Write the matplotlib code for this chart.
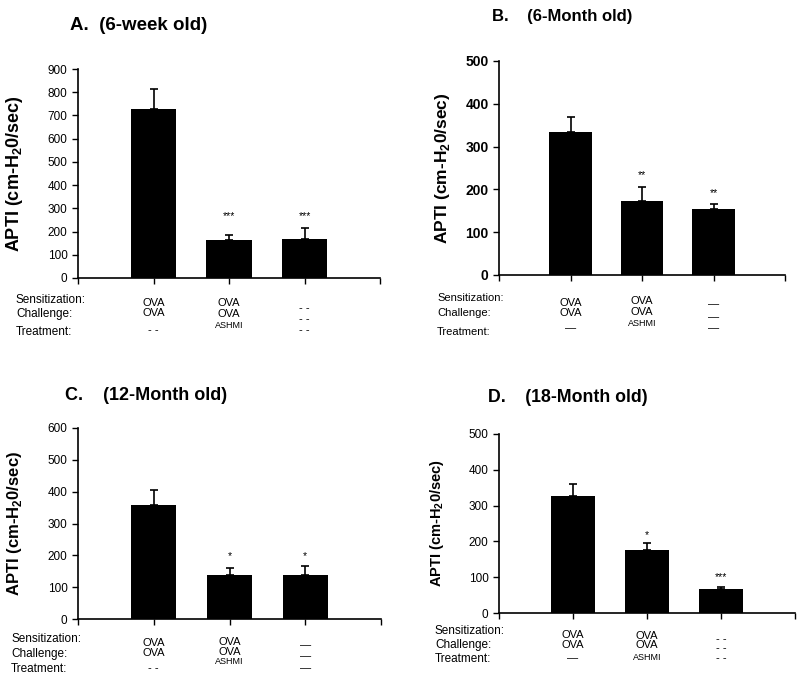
import matplotlib
matplotlib.use("Agg")
import matplotlib.pyplot as plt
import matplotlib.transforms as mtransforms

plt.rcParams['font.family'] = ['Liberation Sans', 'DejaVu Sans']

titles = ["A.  (6-week old)", "B.    (6-Month old)", "C.    (12-Month old)", "D.    (18-Month old)"]
ylabel = "APTI (cm-H$_\\mathregular{2}$0/sec)"
ymax = [900, 500, 600, 500]
ystep = [100, 100, 100, 100]

means_A = [729, 164, 169]
errs_A = [83, 22, 46]
stars_A = ["", "***", "***"]

means_B = [335, 173, 154]
errs_B = [35, 33, 13]
stars_B = ["", "**", "**"]

means_C = [358, 137, 137]
errs_C = [48, 24, 29]
stars_C = ["", "*", "*"]

means_D = [327, 176, 66]
errs_D = [33, 20, 7]
stars_D = ["", "*", "***"]

row_names = ["Sensitization:", "Challenge:", "Treatment:"]
sens_A = ["OVA", "OVA", "- -"]
chal_A = ["OVA", "OVA", "- -"]
treat_A = ["- -", "ASHMI", "- -"]
sens_B = ["OVA", "OVA", "—"]
chal_B = ["OVA", "OVA", "—"]
treat_B = ["—", "ASHMI", "—"]
sens_C = ["OVA", "OVA", "—"]
chal_C = ["OVA", "OVA", "—"]
treat_C = ["- -", "ASHMI", "—"]
sens_D = ["OVA", "OVA", "- -"]
chal_D = ["OVA", "OVA", "- -"]
treat_D = ["—", "ASHMI", "- -"]

W, H = 800, 679
fig = plt.figure(figsize=(8, 6.79), dpi=100)

def fx(px):
    return px / W

def fy(py):
    return 1 - py / H

panels = [
    dict(means=means_A, errs=errs_A, stars=stars_A, rows=[sens_A, chal_A, treat_A],
         box=(78, 69, 380, 278), title_xy=(70, 25), ylab_x=15, ylab_fs=13, tick_fs=8.5, tick_bold=False,
         title_fs=13.5, star_y=[0, 267, 267],
         row_x=16, row_y=[300, 314, 332], rfs=8.5,
         col_y=[[303, 313, 330], [303, 314, 325], [308, 319, 330]], tfs=8),
    dict(means=means_B, errs=errs_B, stars=stars_B, rows=[sens_B, chal_B, treat_B],
         box=(499, 61, 785, 275), title_xy=(492, 17), ylab_x=442, ylab_fs=12.5, tick_fs=10, tick_bold=True,
         title_fs=12, star_y=[0, 234, 192],
         row_x=437, row_y=[298, 313, 332], rfs=8,
         col_y=[[303, 313, 328], [301, 312, 323], [304, 317, 328]], tfs=8),
    dict(means=means_C, errs=errs_C, stars=stars_C, rows=[sens_C, chal_C, treat_C],
         box=(78, 428, 381, 619), title_xy=(65, 396), ylab_x=15, ylab_fs=12, tick_fs=8.5, tick_bold=False,
         title_fs=13, star_y=[0, 198, 198],
         row_x=11, row_y=[639, 654, 669], rfs=8.5,
         col_y=[[643, 653, 668], [642, 652, 662], [645, 656, 668]], tfs=8),
    dict(means=means_D, errs=errs_D, stars=stars_D, rows=[sens_D, chal_D, treat_D],
         box=(499, 434, 795, 613), title_xy=(488, 397), ylab_x=437, ylab_fs=10.5, tick_fs=8.5, tick_bold=False,
         title_fs=12.8, star_y=[0, 218, 100],
         row_x=435, row_y=[631, 645, 659], rfs=8.5,
         col_y=[[635, 645, 658], [636, 645, 657], [639, 648, 658]], tfs=8),
]

xpos = [1, 2, 3]
for i, p in enumerate(panels):
    l, t, r, b = p['box']
    ax = fig.add_axes([fx(l), fy(b), fx(r) - fx(l), fy(t) - fy(b)])
    ax.bar(xpos, p['means'], width=0.6, color='black', zorder=2)
    ax.errorbar(xpos, p['means'], yerr=[[0, 0, 0], p['errs']], fmt='none', ecolor='black',
                elinewidth=1.2, capsize=3, capthick=1.2, zorder=1)
    for x, s, sy in zip(xpos, p['stars'], p['star_y']):
        if s:
            ax.text(x, sy, s, ha='center', va='center', fontsize=7.5)
    ax.set_xlim(0, 4)
    ax.set_ylim(0, ymax[i])
    ax.set_yticks(range(0, ymax[i] + 1, ystep[i]))
    ax.set_xticks([0, 1, 2, 3, 4])
    ax.set_xticklabels([])
    for sp in ['top', 'right']:
        ax.spines[sp].set_visible(False)
    ax.spines['left'].set_linewidth(1.2)
    ax.spines['bottom'].set_linewidth(1.2)
    ax.tick_params(direction='out', length=4, width=1.0, labelsize=p['tick_fs'])
    if p['tick_bold']:
        for lab in ax.get_yticklabels():
            lab.set_fontweight('bold')
    fig.text(fx(p['ylab_x']), (fy(t) + fy(b)) / 2, ylabel, rotation=90, ha='center', va='center',
             fontsize=p['ylab_fs'], fontweight='bold')
    fig.text(fx(p['title_xy'][0]), fy(p['title_xy'][1]), titles[i], ha='left', va='center',
             fontsize=p['title_fs'], fontweight='bold')
    trans = mtransforms.blended_transform_factory(ax.transData, fig.transFigure)
    for name, ry in zip(row_names, p['row_y']):
        fig.text(fx(p['row_x']), fy(ry), name, ha='left', va='center', fontsize=p['rfs'])
    for ci, x in enumerate(xpos):
        for ri in range(3):
            txt = p['rows'][ri][ci]
            fs = 6.5 if txt == "ASHMI" else p['tfs']
            ax.text(x, fy(p['col_y'][ci][ri]), txt, transform=trans, ha='center', va='center',
                    fontsize=fs, clip_on=False)

fig.savefig("out.png", dpi=100)
